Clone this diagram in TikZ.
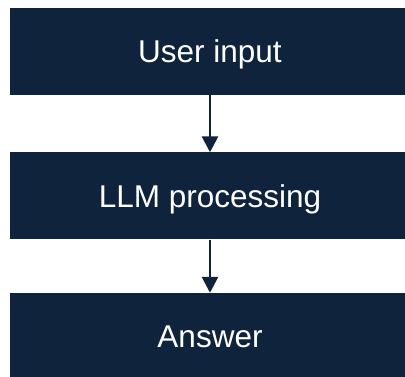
\documentclass[tikz,border=0pt]{standalone}
\usepackage{fontspec}
\setmainfont{Liberation Sans}
\usetikzlibrary{arrows.meta}
\definecolor{navy}{RGB}{15,35,61}
\tikzset{
  stage/.style={fill=navy, draw=none, text=white, minimum width=400pt,
    minimum height=87pt, inner sep=0pt, text height=22.5pt, text depth=0pt,
    font=\fontsize{31.5}{36}\selectfont},
  flow/.style={draw=navy, line width=2.8pt,
    -{Triangle[width=16pt,length=16pt]}, shorten >=0pt}
}
\begin{document}
\begin{tikzpicture}[x=1pt,y=1pt]
  \useasboundingbox (0,0) rectangle (405,-377);
  \node[stage] (input)   at (210,-51.25) {User input};
  \node[stage] (llm)     at (210,-196)   {LLM processing};
  \node[stage] (answer)  at (210,-336.5) {Answer};
  \draw[flow] (input.south) -- (llm.north);
  \draw[flow] (llm.south) -- (answer.north);
\end{tikzpicture}
\end{document}
